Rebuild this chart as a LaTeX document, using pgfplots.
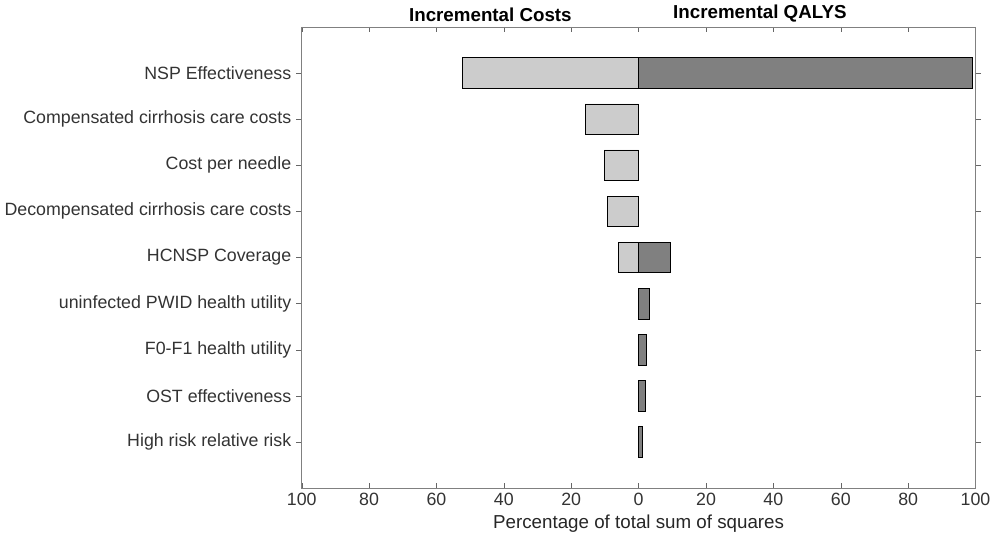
\documentclass[border=0pt]{standalone}
\usepackage{pgfplots}
\pgfplotsset{compat=1.18}
\usepackage{fontspec}
\setmainfont{Liberation Sans}
\definecolor{lg}{RGB}{204,204,204}
\definecolor{dg}{RGB}{128,128,128}
\begin{document}
\begin{tikzpicture}
\begin{axis}[
  scale only axis, width=485pt, height=332pt,
  xmin=-100, xmax=100, ymin=0, ymax=10,
  xtick={-100,-80,-60,-40,-20,0,20,40,60,80,100},
  xticklabels={100,80,60,40,20,0,20,40,60,80,100},
  ytick={1,...,9},
  yticklabels={High risk relative risk,OST effectiveness,F0-F1 health utility,uninfected PWID health utility,HCNSP Coverage,Decompensated cirrhosis care costs,Cost per needle,Compensated cirrhosis care costs,NSP Effectiveness},
  tick label style={font=\fontsize{12.8}{15}\selectfont, text=black!80},
  /pgf/number format/assume math mode=true,
  xlabel={Percentage of total sum of squares},
  xlabel style={font=\fontsize{13.5}{15}\selectfont, text=black!85},
  axis line style={black!50}, tick style={black!60},
  tick align=inside, major tick length=4pt,
  xbar, bar width=0.66, bar shift=0,
  clip=false,
]
\addplot[fill=lg, draw=black, line width=0.4pt] coordinates {(-52.4,9) (-15.9,8) (-10.2,7) (-9.3,6) (-6,5)};
\addplot[fill=dg, draw=black, line width=0.4pt] coordinates {(99,9) (9.3,5) (3.3,4) (2.4,3) (2.1,2) (1.2,1)};
\node[font=\bfseries\fontsize{13.5}{15}\selectfont, anchor=south] at (axis cs:-44,10) {Incremental Costs};
\node[font=\bfseries\fontsize{13.5}{15}\selectfont, anchor=south] at (axis cs:36,10) {Incremental QALYS};
\end{axis}
\end{tikzpicture}
\end{document}
